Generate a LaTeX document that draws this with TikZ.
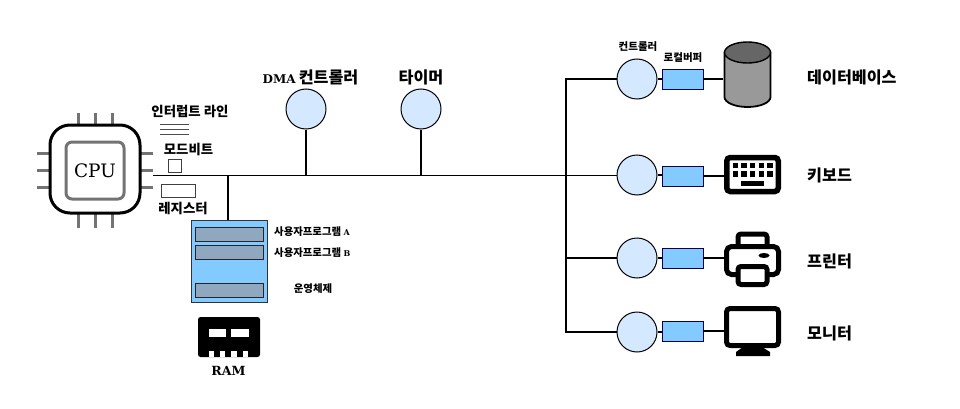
\documentclass[tikz,border=0pt]{standalone}
\usepackage{fontspec}
\usetikzlibrary{shapes.geometric}
\setmainfont{DejaVu Serif}
\newfontfamily\krfont{Noto Sans CJK KR}
\definecolor{circle_blue}{HTML}{D4E9FF}
\definecolor{sky_blue}{HTML}{82CAFF}
\definecolor{slot_gray}{HTML}{8FA8C0}
\begin{document}
\begin{tikzpicture}[x=1pt, y=-1pt,
    edge_style/.style={draw=black, line width=1.6pt},
    pin_style/.style={draw=black!55, line width=3pt},
    circle_style/.style={circle,draw=black,fill=circle_blue,line width=1pt,minimum size=40pt,inner sep=0pt},
    buffer_style/.style={rectangle,draw=black!70!blue,fill=sky_blue,line width=.7pt,minimum width=41pt,minimum height=20pt,inner sep=0pt},
    slot_style/.style={rectangle,draw=black!85,fill=slot_gray,line width=.9pt,minimum width=68pt,minimum height=14pt,inner sep=0pt},
    small_box_style/.style={rectangle,draw=black!75,fill=white,line width=.6pt,inner sep=0pt},
    hole_style/.style={rectangle,fill=white,inner sep=0pt},
    key_style/.style={rectangle,fill=black,minimum width=5.5pt,minimum height=5.5pt,inner sep=0pt},
    kr_big/.style={font=\krfont\bfseries\fontsize{16.2}{16}\selectfont,inner sep=0pt},
    kr_mid/.style={font=\krfont\bfseries\fontsize{13.4}{14}\selectfont,inner sep=0pt},
    kr_small/.style={font=\krfont\bfseries\fontsize{10.4}{11}\selectfont,inner sep=0pt},
    kr_tiny/.style={font=\krfont\bfseries\fontsize{10.5}{11}\selectfont,inner sep=0pt}]

    \useasboundingbox (0,0) rectangle (960,409);

    % cpu
    \foreach \p in {78,95,112} {
        \draw[pin_style] (\p,113) -- (\p,125);
        \draw[pin_style] (\p,213) -- (\p,228);
    }
    \foreach \p in {153,170,187} {
        \draw[pin_style] (37,\p) -- (50,\p);
        \draw[pin_style] (140,\p) -- (153,\p);
    }
    \node[rectangle,draw=black,fill=white,line width=3pt,rounded corners=20pt,minimum width=90pt,minimum height=88pt] (cpu) at (95,169) {};
    \node[rectangle,draw=black!55,fill=white,line width=3pt,rounded corners=6pt,minimum width=58pt,minimum height=57pt,inner sep=0pt,font=\fontsize{18.5}{19}\selectfont] (core) at (95,170.5) {CPU};

    % left side of the bus
    \node[kr_mid] (irq_label) at (190,111.5) {인터럽트 라인};
    \foreach \p in {124,129,134}
        \draw[draw=black!70, line width=.7pt] (160,\p) -- (189,\p);
    \node[kr_mid] (mode_label) at (188.5,149.5) {모드비트};
    \node[small_box_style,minimum width=13pt,minimum height=13pt] (mode_bit) at (174.5,165.5) {};
    \node[small_box_style,minimum width=34pt,minimum height=13pt] (register) at (178,191) {};
    \node[kr_mid] (register_label) at (183,208.5) {레지스터};

    % ram
    \node[rectangle,draw=black!80,fill=sky_blue,line width=.8pt,minimum width=76pt,minimum height=82pt,inner sep=0pt] (ram) at (229,261) {};
    \node[slot_style] (slot_a) at (229,234) {};
    \node[slot_style] (slot_b) at (229,252.5) {};
    \node[slot_style] (slot_os) at (229,290) {};
    \node[kr_small,anchor=west] (label_a) at (274,232) {사용자프로그램 {\rmfamily\bfseries\fontsize{8}{8}\selectfont A}};
    \node[kr_small,anchor=west] (label_b) at (274,252.5) {사용자프로그램 {\rmfamily\bfseries\fontsize{8}{8}\selectfont B}};
    \node[kr_small] (label_os) at (313,288.5) {운영체제};

    % ram icon
    \node[rectangle,fill=black,rounded corners=2.5pt,minimum width=62pt,minimum height=40pt,inner sep=0pt] (ram_icon) at (229,337) {};
    \node[hole_style,minimum width=17pt,minimum height=8.5pt] (win1) at (217.5,333) {};
    \node[hole_style,minimum width=18pt,minimum height=8.5pt] (win2) at (240,333) {};
    \foreach \p in {211.5,222.5,234,245.5}
        \node[hole_style,minimum width=5.5pt,minimum height=6pt] at (\p,354) {};
    \node[font=\bfseries\fontsize{12.6}{13}\selectfont,inner sep=0pt] (ram_label) at (228.5,371) {RAM};

    % bus controllers
    \node[circle_style] (dma) at (306,109) {};
    \node[circle_style] (timer) at (421,109) {};
    \node[inner sep=0pt] (dma_label) at (310.5,77.5) {{\bfseries\fontsize{12}{12}\selectfont DMA} {\krfont\bfseries\fontsize{16.2}{16}\selectfont 컨트롤러}};
    \node[kr_big] (timer_label) at (421,77.5) {타이머};

    % devices
    \node[circle_style] (ctrl1) at (637,79) {};
    \node[circle_style] (ctrl2) at (637,175) {};
    \node[circle_style] (ctrl3) at (637,258) {};
    \node[circle_style] (ctrl4) at (637,332) {};
    \node[buffer_style] (buf1) at (682.5,79) {};
    \node[buffer_style] (buf2) at (682.5,176) {};
    \node[buffer_style] (buf3) at (682.5,258) {};
    \node[buffer_style] (buf4) at (682.5,331) {};
    \node[kr_tiny] (ctrl_label) at (638,46.5) {컨트롤러};
    \node[kr_tiny] (buf_label) at (683,57.5) {로컬버퍼};

    % database
    \coordinate (db) at (723,79);
    \draw[fill=black!40,line width=1.8pt] (724.5,52.5) -- (724.5,97) arc[start angle=180,end angle=360,x radius=23pt,y radius=10pt] -- (770.5,52.5) -- cycle;
    \draw[fill=black!60,line width=1.4pt] (747.5,52.5) ellipse[x radius=23pt,y radius=10.5pt];

    % keyboard
    \node[rectangle,draw=black,fill=white,line width=5.5pt,rounded corners=3.5pt,minimum width=51.5pt,minimum height=34pt,inner sep=0pt] (keyboard) at (752.5,174.5) {};
    \foreach \p in {735.5,744,752.5,761.5,770} {
        \node[key_style] at (\p,165.5) {};
        \node[key_style] at (\p,174) {};
    }
    \node[key_style,minimum width=23pt] (space_bar) at (752.5,183.5) {};

    % printer
    \node[rectangle,draw=black,fill=white,line width=5pt,rounded corners=3pt,minimum width=29pt,minimum height=15pt,inner sep=0pt] (paper) at (752.5,241.5) {};
    \node[rectangle,draw=black,fill=white,line width=5pt,rounded corners=5pt,minimum width=52pt,minimum height=28pt,inner sep=0pt] (printer) at (752.5,260.5) {};
    \node[rectangle,draw=black,fill=white,line width=5pt,rounded corners=3pt,minimum width=29pt,minimum height=18pt,inner sep=0pt] (tray) at (752.5,275.5) {};
    \node[ellipse,fill=black,minimum width=11pt,minimum height=5pt,inner sep=0pt] (button) at (764,255.5) {};

    % monitor
    \node[rectangle,draw=black,fill=white,line width=5pt,rounded corners=3.5pt,minimum width=52pt,minimum height=37pt,inner sep=0pt] (monitor) at (752.5,327) {};
    \draw[fill=black,draw=none] (743,347) -- (762,347) -- (770,352) -- (770,356) -- (736,356) -- (736,352) -- cycle;

    \node[kr_big,anchor=west] (db_label) at (807,77.5) {데이터베이스};
    \node[kr_big,anchor=west] (keyboard_label) at (807,175.5) {키보드};
    \node[kr_big,anchor=west] (printer_label) at (807,261.5) {프린터};
    \node[kr_big,anchor=west] (monitor_label) at (807,333.5) {모니터};

    % bus
    \coordinate (bus_start) at (153,175.5);
    \coordinate (ram_top) at (228,220);
    \coordinate (trunk_top) at (566,79);
    \coordinate (trunk_mid) at (566,258);
    \coordinate (trunk_bot) at (566,332);

    \draw[edge_style] (bus_start) -- (bus_start -| ctrl2.west);
    \draw[edge_style] (ram_top) -- (ram_top |- bus_start);
    \draw[edge_style] (dma) -- (dma |- bus_start);
    \draw[edge_style] (timer) -- (timer |- bus_start);
    \draw[edge_style] (ctrl1) -- (trunk_top) -- (trunk_bot) -- (ctrl4);
    \draw[edge_style] (trunk_mid) -- (ctrl3);
    \draw[edge_style] (ctrl1) -- (buf1);
    \draw[edge_style] (ctrl2) -- (ctrl2 -| buf2.west);
    \draw[edge_style] (ctrl3) -- (buf3);
    \draw[edge_style] (ctrl4) -- (ctrl4 -| buf4.west);
    \draw[edge_style] (buf1) -- (db);
    \draw[edge_style] (buf2) -- (buf2 -| keyboard.west);
    \draw[edge_style] (buf3) -- (buf3 -| printer.west);
    \draw[edge_style] (buf4) -- (buf4 -| monitor.west);
\end{tikzpicture}
\end{document}
